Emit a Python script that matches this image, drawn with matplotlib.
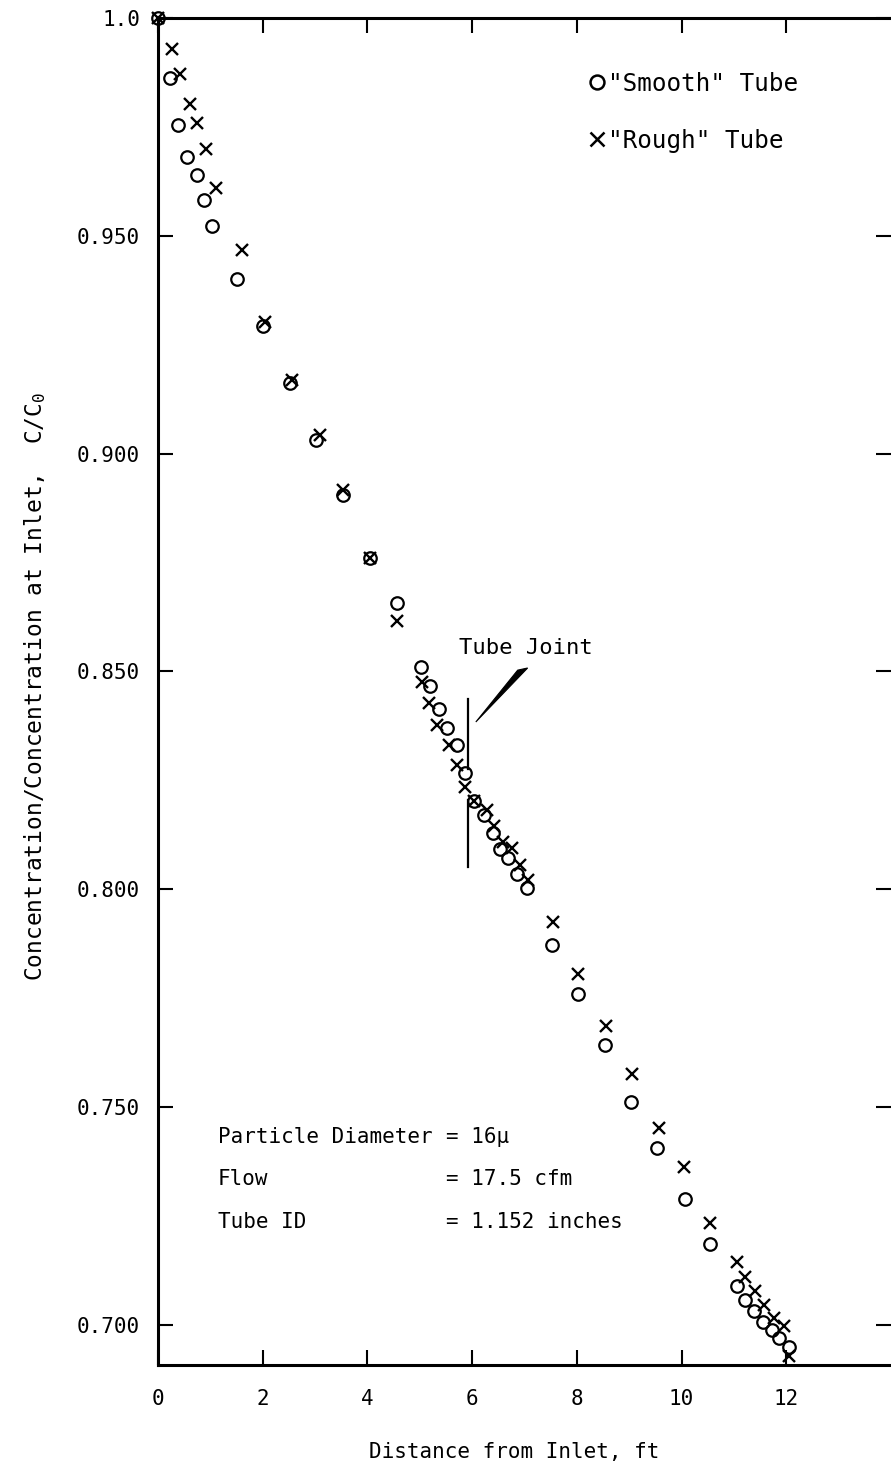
import matplotlib
matplotlib.use("Agg")
import matplotlib.pyplot as plt
from matplotlib.patches import Polygon
from matplotlib.lines import Line2D

plt.rcParams['font.family'] = ['DejaVu Sans Mono', 'DejaVu Sans']
plt.rcParams['mathtext.default'] = 'regular'

# ---- data (distance in ft, C/C0) ----
smooth_x = [0.0, 0.23, 0.38, 0.55, 0.74, 0.88, 1.03, 1.51, 2.00, 2.52, 3.02, 3.53,
            4.05, 4.56, 5.02, 5.19, 5.36, 5.52, 5.71, 5.86, 6.03, 6.22, 6.39, 6.53,
            6.68, 6.85, 7.04, 7.52, 8.02, 8.53, 9.03, 9.54, 10.06, 10.55, 11.05,
            11.22, 11.39, 11.55, 11.72, 11.87, 12.06]
smooth_c = [1.000, 0.9862, 0.9754, 0.9681, 0.9640, 0.9582, 0.9523, 0.9401, 0.9293,
            0.9162, 0.9031, 0.8905, 0.8761, 0.8657, 0.8510, 0.8467, 0.8414, 0.8370,
            0.8331, 0.8267, 0.8203, 0.8171, 0.8129, 0.8093, 0.8072, 0.8035, 0.8003,
            0.7872, 0.7760, 0.7643, 0.7512, 0.7406, 0.7289, 0.7186, 0.7090, 0.7058,
            0.7032, 0.7007, 0.6989, 0.6970, 0.6950]

rough_x = [0.0, 0.27, 0.42, 0.61, 0.74, 0.92, 1.11, 1.60, 2.04, 2.56, 3.09, 3.53,
           4.05, 4.56, 5.04, 5.17, 5.32, 5.55, 5.71, 5.86, 6.03, 6.28, 6.41, 6.58,
           6.76, 6.91, 7.06, 7.54, 8.03, 8.55, 9.06, 9.56, 10.04, 10.55, 11.05,
           11.22, 11.41, 11.58, 11.77, 11.95, 12.06]
rough_c = [1.000, 0.9929, 0.9871, 0.9803, 0.9759, 0.9699, 0.9610, 0.9468, 0.9302,
           0.9169, 0.9043, 0.8917, 0.8761, 0.8616, 0.8476, 0.8428, 0.8377, 0.8331,
           0.8286, 0.8235, 0.8203, 0.8182, 0.8146, 0.8109, 0.8095, 0.8056, 0.8022,
           0.7925, 0.7806, 0.7686, 0.7576, 0.7452, 0.7363, 0.7234, 0.7145, 0.7110,
           0.7078, 0.7046, 0.7016, 0.6998, 0.6929]

series_labels = ['"Smooth" Tube', '"Rough" Tube']

x_ticks = [0, 2, 4, 6, 8, 10, 12]
y_ticks = [0.700, 0.750, 0.800, 0.850, 0.900, 0.950, 1.0]
y_tick_labels = ['0.700', '0.750', '0.800', '0.850', '0.900', '0.950', '1.0']

joint_x = 5.93
joint_segments = [(0.8436, 0.8275), (0.8206, 0.8050)]
joint_wedge = [(6.07, 0.8384), (6.87, 0.8503), (7.06, 0.8508)]
joint_label_pos = (7.02, 0.8554)

info_rows = [('Particle Diameter', '= 16\u03bc'),
             ('Flow', '= 17.5 cfm'),
             ('Tube ID', '= 1.152 inches')]
info_row_y = [0.7432, 0.7335, 0.7237]
info_col_x = [1.145, 5.50]

# ---- figure ----
W, H = 891, 1469
fig = plt.figure(figsize=(W / 100, H / 100), dpi=100)
ax = fig.add_axes([158 / W, 1 - 1365 / H, 733 / W, 1347 / H])

ax.set_xlim(0, 14)
ax.set_ylim(0.6908, 1.0)

mk = dict(linestyle='none', color='black', clip_on=False)
ax.plot(smooth_x, smooth_c, marker='o', ms=9, mfc='none', mew=1.6, **mk)
ax.plot(rough_x, rough_c, marker='x', ms=9, mew=1.7, **mk)

# tube joint annotation
for (y0, y1) in joint_segments:
    ax.plot([joint_x, joint_x], [y0, y1], color='black', lw=1.6)
ax.add_patch(Polygon(joint_wedge, closed=True, fc='black', ec='black', lw=0.8))
ax.text(joint_label_pos[0], joint_label_pos[1], 'Tube Joint', fontsize=16,
        ha='center', va='center')

for (lab, val), yv in zip(info_rows, info_row_y):
    ax.text(info_col_x[0], yv, lab, fontsize=15, ha='left', va='center')
    ax.text(info_col_x[1], yv, val, fontsize=15, ha='left', va='center')

# legend
handles = [Line2D([], [], marker='o', ms=10, mfc='none', mew=1.8, color='black', linestyle='none'),
           Line2D([], [], marker='x', ms=10, mew=1.8, color='black', linestyle='none')]
ax.legend(handles, series_labels, loc='upper left', bbox_to_anchor=(0.589, 0.960),
          frameon=False, fontsize=17.5, handlelength=0.6, handletextpad=0.15,
          borderpad=0, borderaxespad=0, labelspacing=1.35)

# axes styling
for s in ['left', 'top', 'bottom']:
    ax.spines[s].set_linewidth(2.2)
ax.spines['right'].set_visible(False)

ax.set_xticks(x_ticks)
ax.set_yticks(y_ticks)
ax.set_yticklabels(y_tick_labels)
ax.tick_params(axis='both', direction='in', length=11, width=1.5, labelsize=15)
ax.tick_params(axis='x', top=True, pad=17)
ax.tick_params(axis='y', right=True, pad=13)

fig.text(35 / W, 1 - 686 / H, 'Concentration/Concentration at Inlet,  C/C$_0$',
         rotation=90, ha='center', va='center', fontsize=16.5)
fig.text(514 / W, 1 - 1452 / H, 'Distance from Inlet, ft', ha='center', va='center',
         fontsize=15)

fig.savefig('out.png', dpi=100)
